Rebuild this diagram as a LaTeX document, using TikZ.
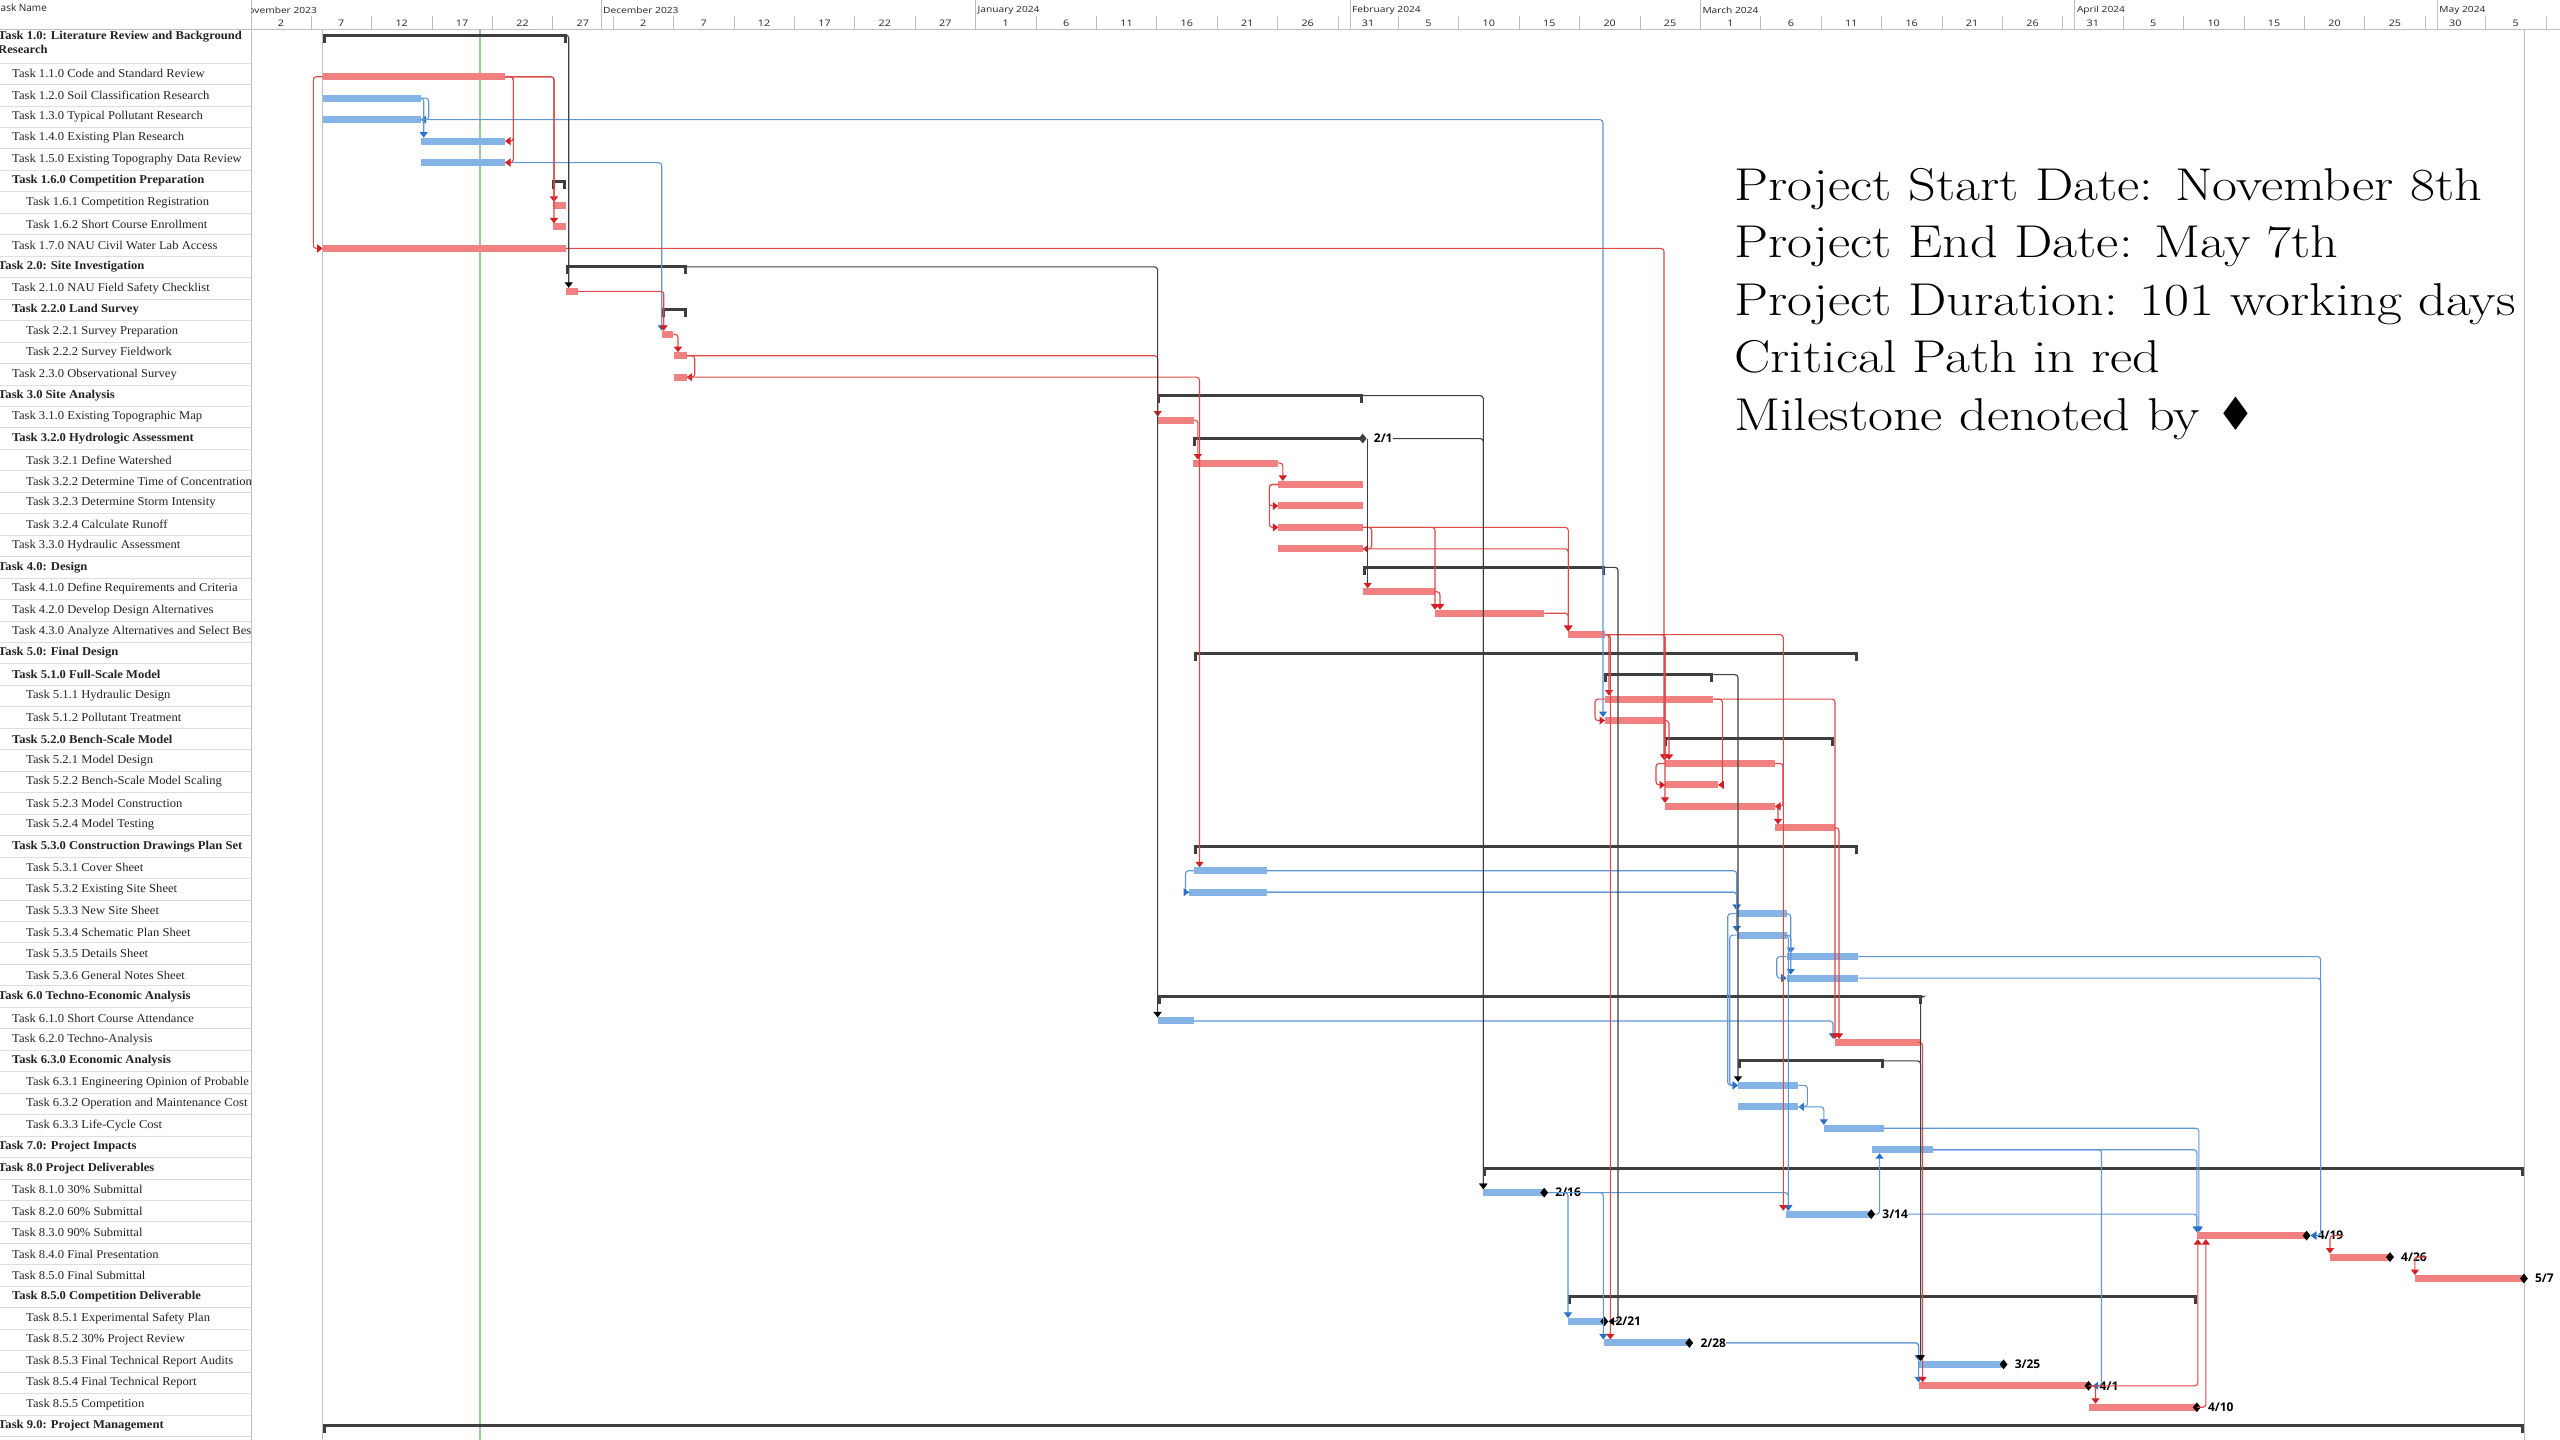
\documentclass[tikz,border=0pt]{standalone}
\usepackage{fontspec}
\usepackage{graphicx}
\newfontfamily\tblfont{Liberation Serif}
\newfontfamily\hdrfont{Open Sans}
\newfontfamily\symfont{DejaVu Sans}
\usetikzlibrary{arrows.meta,shapes.geometric}
\definecolor{critfill}{RGB}{241,128,128}
\definecolor{normfill}{RGB}{133,179,230}
\definecolor{critline}{RGB}{222,72,72}
\definecolor{normline}{RGB}{96,150,214}
\definecolor{critarr}{RGB}{214,30,36}
\definecolor{normarr}{RGB}{40,112,200}
\definecolor{sumcol}{RGB}{62,62,62}
\definecolor{gridcol}{RGB}{222,222,222}
\definecolor{bordcol}{RGB}{190,190,190}
\definecolor{todaycol}{RGB}{150,205,150}
\definecolor{txtcol}{RGB}{35,35,35}
\newcommand\RY[1]{(73.73+(#1-2)*21.46)}
\newcommand\gbar[5]{\node[#2,minimum width={(#4)-(#3)},anchor=west] (#1) at ({#3},{\RY{#5}+3}) {};}
\newcommand\gsum[4]{%
  \node[sbar,minimum width={(#3)-(#2)},anchor=west] (#1) at ({#2},{#4}) {};%
  \fill[sumcol] ({#2},{#4-1.5}) rectangle ++(3,9);%
  \fill[sumcol] ({#3-3},{#4-1.5}) rectangle ++(3,9);}
\newcommand\gsumr[4]{\gsum{#1}{#2}{#3}{\RY{#4}}}
\newcommand\msk[3]{\node[msd] (m#1) at (#2.east) {};\node[mslbl] (l#1) at ([xshift=11pt]#2.east) {#3};}
\newcommand\hsc[1]{\scalebox{1.05}[1]{#1}}
\newcommand\trow[4]{\node[tt,#3] (r#1) at (#2,{\RY{#1}}) {\hsc{#4}};}
\begin{document}
\begin{tikzpicture}[x=1pt,y=-1pt,
  cbar/.style={rectangle,fill=critfill,inner sep=0,outer sep=0,minimum height=7pt},
  nbar/.style={rectangle,fill=normfill,inner sep=0,outer sep=0,minimum height=7pt},
  sbar/.style={rectangle,fill=sumcol,inner sep=0,outer sep=0,minimum height=3pt},
  msd/.style={diamond,fill=black,inner sep=0,minimum width=8pt,minimum height=10pt},
  mslbl/.style={anchor=west,inner sep=0,font=\hdrfont\bfseries\fontsize{12}{12}\selectfont},
  lnk/.style={line width=1.1pt,rounded corners=3pt},
  cl/.style={lnk,draw=critline,-{Triangle[length=5.5pt,width=8pt,color=critarr]}},
  nl/.style={lnk,draw=normline,-{Triangle[length=5.5pt,width=8pt,color=normarr]}},
  sl/.style={lnk,draw=sumcol,-{Triangle[length=5.5pt,width=8pt,color=black]}},
  tt/.style={anchor=west,inner sep=0,text=txtcol,font=\tblfont\fontsize{12}{14}\selectfont},
  tb/.style={font=\tblfont\bfseries\fontsize{12}{14}\selectfont},
  hdrm/.style={anchor=west,inner sep=0,text=txtcol,font=\hdrfont\fontsize{8.5}{9}\selectfont},
  hdrw/.style={inner sep=0,text=txtcol,font=\hdrfont\fontsize{9}{9}\selectfont},
  rt/.style={anchor=base west,inner sep=0,font=\fontsize{46}{52}\selectfont}]
\useasboundingbox (0,0) rectangle (2560,1440);
\fill[white] (0,0) rectangle (2560,1440);
% ---------- table ----------
\foreach \k in {2,...,66} \draw[gridcol,line width=0.8pt] (0,{63+(\k-2)*21.46}) -- (251,{63+(\k-2)*21.46});
\draw[bordcol,line width=0.8pt] (0,29) -- (2560,29);
\draw[bordcol,line width=1pt] (251,0) -- (251,1440);
\node[anchor=west,inner sep=0,text=txtcol,font=\hdrfont\fontsize{10}{10}\selectfont] (hdr) at (0.5,8) {ask Name};
\begin{scope}
\clip (0,0) rectangle (250,1440);
\node[tt,tb,align=left] (r1) at (-2,42) {\hsc{Task 1.0: Literature Review and Background}\\\hsc{Research}};
\trow{2}{12}{}{Task 1.1.0 Code and Standard Review}
\trow{3}{12}{}{Task 1.2.0 Soil Classification Research}
\trow{4}{12}{}{Task 1.3.0 Typical Pollutant Research}
\trow{5}{12}{}{Task 1.4.0 Existing Plan Research}
\trow{6}{12}{}{Task 1.5.0 Existing Topography Data Review}
\trow{7}{12}{tb}{Task 1.6.0 Competition Preparation}
\trow{8}{26}{}{Task 1.6.1 Competition Registration}
\trow{9}{26}{}{Task 1.6.2 Short Course Enrollment}
\trow{10}{12}{}{Task 1.7.0 NAU Civil Water Lab Access}
\trow{11}{-2}{tb}{Task 2.0: Site Investigation}
\trow{12}{12}{}{Task 2.1.0 NAU Field Safety Checklist}
\trow{13}{12}{tb}{Task 2.2.0 Land Survey}
\trow{14}{26}{}{Task 2.2.1 Survey Preparation}
\trow{15}{26}{}{Task 2.2.2 Survey Fieldwork}
\trow{16}{12}{}{Task 2.3.0 Observational Survey}
\trow{17}{-2}{tb}{Task 3.0 Site Analysis}
\trow{18}{12}{}{Task 3.1.0 Existing Topographic Map}
\trow{19}{12}{tb}{Task 3.2.0 Hydrologic Assessment}
\trow{20}{26}{}{Task 3.2.1 Define Watershed}
\trow{21}{26}{}{Task 3.2.2 Determine Time of Concentration}
\trow{22}{26}{}{Task 3.2.3 Determine Storm Intensity}
\trow{23}{26}{}{Task 3.2.4 Calculate Runoff}
\trow{24}{12}{}{Task 3.3.0 Hydraulic Assessment}
\trow{25}{-2}{tb}{Task 4.0: Design}
\trow{26}{12}{}{Task 4.1.0 Define Requirements and Criteria}
\trow{27}{12}{}{Task 4.2.0 Develop Design Alternatives}
\trow{28}{12}{}{Task 4.3.0 Analyze Alternatives and Select Best}
\trow{29}{-2}{tb}{Task 5.0: Final Design}
\trow{30}{12}{tb}{Task 5.1.0 Full-Scale Model}
\trow{31}{26}{}{Task 5.1.1 Hydraulic Design}
\trow{32}{26}{}{Task 5.1.2 Pollutant Treatment}
\trow{33}{12}{tb}{Task 5.2.0 Bench-Scale Model}
\trow{34}{26}{}{Task 5.2.1 Model Design}
\trow{35}{26}{}{Task 5.2.2 Bench-Scale Model Scaling}
\trow{36}{26}{}{Task 5.2.3 Model Construction}
\trow{37}{26}{}{Task 5.2.4 Model Testing}
\trow{38}{12}{tb}{Task 5.3.0 Construction Drawings Plan Set}
\trow{39}{26}{}{Task 5.3.1 Cover Sheet}
\trow{40}{26}{}{Task 5.3.2 Existing Site Sheet}
\trow{41}{26}{}{Task 5.3.3 New Site Sheet}
\trow{42}{26}{}{Task 5.3.4 Schematic Plan Sheet}
\trow{43}{26}{}{Task 5.3.5 Details Sheet}
\trow{44}{26}{}{Task 5.3.6 General Notes Sheet}
\trow{45}{-2}{tb}{Task 6.0 Techno-Economic Analysis}
\trow{46}{12}{}{Task 6.1.0 Short Course Attendance}
\trow{47}{12}{}{Task 6.2.0 Techno-Analysis}
\trow{48}{12}{tb}{Task 6.3.0 Economic Analysis}
\trow{49}{26}{}{Task 6.3.1 Engineering Opinion of Probable Cost}
\trow{50}{26}{}{Task 6.3.2 Operation and Maintenance Cost}
\trow{51}{26}{}{Task 6.3.3 Life-Cycle Cost}
\trow{52}{-2}{tb}{Task 7.0: Project Impacts}
\trow{53}{-2}{tb}{Task 8.0 Project Deliverables}
\trow{54}{12}{}{Task 8.1.0 30\% Submittal}
\trow{55}{12}{}{Task 8.2.0 60\% Submittal}
\trow{56}{12}{}{Task 8.3.0 90\% Submittal}
\trow{57}{12}{}{Task 8.4.0 Final Presentation}
\trow{58}{12}{}{Task 8.5.0 Final Submittal}
\trow{59}{12}{tb}{Task 8.5.0 Competition Deliverable}
\trow{60}{26}{}{Task 8.5.1 Experimental Safety Plan}
\trow{61}{26}{}{Task 8.5.2 30\% Project Review}
\trow{62}{26}{}{Task 8.5.3 Final Technical Report Audits}
\trow{63}{26}{}{Task 8.5.4 Final Technical Report}
\trow{64}{26}{}{Task 8.5.5 Competition}
\trow{65}{-2}{tb}{Task 9.0: Project Management}
\end{scope}
% ---------- timescale ----------
\begin{scope}
\clip (251,0) rectangle (2560,29);
\foreach \x/\m in {238.6/November 2023,601/December 2023,975.5/January 2024,1350/February 2024,1700.3/March 2024,2074.8/April 2024,2437.2/May 2024}{
  \draw[bordcol,line width=0.8pt] (\x,0) -- (\x,29);
  \node[hdrm] at ({\x+2},10.5) {\scalebox{1.2}[1]{\m}};}
\foreach \k/\lab in {0/2,1/7,2/12,3/17,4/22,5/27,6/2,7/7,8/12,9/17,10/22,11/27,12/1,13/6,14/11,15/16,16/21,17/26,18/31,19/5,20/10,21/15,22/20,23/25,24/1,25/6,26/11,27/16,28/21,29/26,30/31,31/5,32/10,33/15,34/20,35/25,36/30,37/5}{
  \draw[bordcol,line width=0.8pt] ({250.7+60.4*\k},16) -- ({250.7+60.4*\k},29);
  \node[hdrw] at ({250.7+60.4*\k+30.2},23) {\scalebox{1.2}[1]{\lab}};}
\draw[bordcol,line width=0.8pt] ({250.7+60.4*38},16) -- ({250.7+60.4*38},29);
\end{scope}
% ---------- grid lines ----------
\draw[bordcol,line width=1pt] (322.7,29) -- (322.7,1440);
\draw[bordcol,line width=1pt] (2524,29) -- (2524,1440);
\draw[todaycol,line width=1.2pt] (480,29) -- (480,1440);
% ---------- bars ----------
\gsum{s1}{322.7}{566.7}{35}
\gbar{t11}{cbar}{322.7}{505}{2}
\gbar{t12}{nbar}{322.7}{420.7}{3}
\gbar{t13}{nbar}{322.7}{420.7}{4}
\gbar{t14}{nbar}{420.7}{505}{5}
\gbar{t15}{nbar}{420.7}{505}{6}
\gsumr{s16}{552.3}{565.7}{7}
\gbar{t161}{cbar}{553}{566}{8}
\gbar{t162}{cbar}{553}{566}{9}
\gbar{t17}{cbar}{322.7}{565.7}{10}
\gsumr{s2}{565.7}{686.7}{11}
\gbar{t21}{cbar}{565.7}{577.7}{12}
\gsumr{s22}{661.7}{686.7}{13}
\gbar{t221}{cbar}{661.7}{673.3}{14}
\gbar{t222}{cbar}{674}{686.7}{15}
\gbar{t23}{cbar}{674}{686.7}{16}
\gsumr{s3}{1156.7}{1362.7}{17}
\gbar{t31}{cbar}{1156.7}{1194}{18}
\node[sbar,minimum width={1362.7-1193.3},anchor=west] (s32) at (1193.3,{\RY{19}}) {};
\fill[sumcol] (1193.3,{\RY{19}-1.5}) rectangle ++(3,9);
\node[msd,fill=sumcol] (m32) at (s32.east) {};
\node[mslbl] (l32) at ([xshift=11pt]s32.east) {2/1};
\gbar{t321}{cbar}{1193.3}{1278.3}{20}
\gbar{t322}{cbar}{1278.3}{1362.7}{21}
\gbar{t323}{cbar}{1278.3}{1362.7}{22}
\gbar{t324}{cbar}{1278.3}{1362.7}{23}
\gbar{t33}{cbar}{1278.3}{1362.7}{24}
\gsumr{s4}{1362.7}{1605}{25}
\gbar{t41}{cbar}{1362.7}{1435}{26}
\gbar{t42}{cbar}{1435}{1544.3}{27}
\gbar{t43}{cbar}{1568.3}{1605}{28}
\gsumr{s5}{1193.5}{1858.3}{29}
\gsumr{s51}{1604}{1713.3}{30}
\gbar{t511}{cbar}{1605}{1713.3}{31}
\gbar{t512}{cbar}{1605}{1665}{32}
\gsumr{s52}{1664}{1834}{33}
\gbar{t521}{cbar}{1665}{1775}{34}
\gbar{t522}{cbar}{1665}{1718.3}{35}
\gbar{t523}{cbar}{1665}{1775}{36}
\gbar{t524}{cbar}{1775}{1835}{37}
\gsumr{s53}{1193.5}{1858.3}{38}
\gbar{t531}{nbar}{1193.5}{1267}{39}
\gbar{t532}{nbar}{1189}{1267}{40}
\gbar{t533}{nbar}{1736.7}{1786.7}{41}
\gbar{t534}{nbar}{1736.7}{1786.7}{42}
\gbar{t535}{nbar}{1786.7}{1858.3}{43}
\gbar{t536}{nbar}{1786.7}{1858.3}{44}
\gsumr{s6}{1157.6}{1921.7}{45}
\gbar{t61}{nbar}{1157.6}{1193.5}{46}
\gbar{t62}{cbar}{1835}{1920}{47}
\gsumr{s63}{1738}{1884}{48}
\gbar{t631}{nbar}{1738}{1798.4}{49}
\gbar{t632}{nbar}{1738}{1798.4}{50}
\gbar{t633}{nbar}{1823.8}{1883.9}{51}
\gbar{t7}{nbar}{1871.6}{1932.5}{52}
\gsumr{s8}{1483.3}{2524}{53}
\gbar{t81}{nbar}{1483.3}{1544.2}{54}
\gbar{t82}{nbar}{1786.3}{1871.2}{55}
\gbar{t83}{cbar}{2196.8}{2306.6}{56}
\gbar{t84}{cbar}{2330}{2390}{57}
\gbar{t85}{cbar}{2414.9}{2523.9}{58}
\gsumr{s85}{1568.2}{2196.8}{59}
\gbar{t851}{nbar}{1568}{1604.3}{60}
\gbar{t852}{nbar}{1604.3}{1689.3}{61}
\gbar{t853}{nbar}{1918.6}{2003.6}{62}
\gbar{t854}{cbar}{1918.6}{2088.5}{63}
\gbar{t855}{cbar}{2088.5}{2196.8}{64}
\gsumr{s9}{322.7}{2524}{65}
% milestones
\msk{81}{t81}{2/16}
\msk{82}{t82}{3/14}
\msk{83}{t83}{4/19}
\msk{84}{t84}{4/26}
\msk{85}{t85}{5/7}
\msk{851}{t851}{2/21}
\msk{852}{t852}{2/28}
\msk{853}{t853}{3/25}
\msk{854}{t854}{4/1}
\msk{855}{t855}{4/10}
% ---------- blue links ----------
\draw[nl] (t12.east) -- ++(8,0) |- (t13.east);
\draw[nl] (t12.east) -| ([xshift=3pt]t14.north west);
\draw[nl] (t13.east) -| ([xshift=-2pt]t512.north west);
\draw[nl] (t15.east) -| (t221.north west);
\draw[nl] (t531.west) -- ++(-8,0) |- (t532.west);
\draw[nl] (t531.east) -| (t533.north west);
\draw[nl] (t532.east) -| (t533.north west);
\draw[nl] (t532.east) -| (t534.north west);
\draw[nl] (t533.west) -- ++(-9,0) |- (t631.west);
\draw[nl] (t534.west) -- ++(-7,0) |- (t631.west);
\draw[nl] (t533.east) -| ([xshift=4pt]t535.north west);
\draw[nl] (t534.east) -| ([xshift=4pt]t536.north west);
\draw[nl] (t535.west) -- ++(-10,0) |- (t536.west);
\draw[nl] (t535.east) -| ([xshift=14pt]t83.east) -- (m83.east);
\draw[nl] (t536.east) -| ([xshift=14pt]t83.east) -- (m83.east);
\draw[nl] (t534.east) -| ([xshift=2pt]t82.north west);
\draw[nl] (t61.east) -| ([xshift=-2pt]t62.north west);
\draw[nl] (t631.east) -- ++(9,0) |- (t632.east);
\draw[nl] (t632.east) -| (t633.north west);
\draw[nl] (t633.east) -| ([xshift=2pt]t83.north west);
\draw[nl] (t7.east) -| (t83.north west);
\draw[nl] (t7.east) -| ([xshift=13pt]t854.east) -- (m854.east);
\draw[nl] (l81.east) -| ([xshift=2pt]t82.north west);
\draw[nl] (m81.east) -| (t851.north west);
\draw[nl] (m81.east) -| ([xshift=-1pt]t852.north west);
\draw[nl] (l852.east) -| (t853.north west);
\draw[nl] (l852.east) -| (t854.north west);
\draw[nl] (m82.east) -| ([xshift=8pt]t7.south west);
\draw[nl] (l82.east) -| (t83.north west);
% ---------- red links ----------
\draw[cl] (t11.east) -- ++(8.3,0) |- (t14.east);
\draw[cl] (t11.east) -- ++(8.3,0) |- (t15.east);
\draw[cl] (t11.east) -| ([xshift=1pt]t161.north west);
\draw[cl] (t11.east) -| ([xshift=1pt]t162.north west);
\draw[cl] (t11.west) -- ++(-9.4,0) |- (t17.west);
\draw[cl] (t21.east) -| ([xshift=2pt]t221.north west);
\draw[cl] (t221.east) -| ([xshift=4pt]t222.north west);
\draw[cl] (t222.east) -- ++(8,0) |- (t23.east);
\draw[cl] (t222.east) -| ([xshift=1pt]t31.north west);
\draw[cl] (t23.east) -| ([xshift=6pt]t531.north west);
\draw[cl] (t17.east) -| ([xshift=-1pt]t521.north west);
\draw[cl] (t31.east) -| ([xshift=4.5pt]t321.north west);
\draw[cl] (t321.east) -| ([xshift=4.5pt]t322.north west);
\draw[cl] (t322.west) -- ++(-9,0) |- (t323.west);
\draw[cl] (t322.west) -- ++(-9,0) |- (t324.west);
\draw[cl] (t324.east) -- ++(9,0) |- (t33.east);
\draw[cl] (t324.east) -| (t42.north west);
\draw[cl] (t41.east) -| ([xshift=5pt]t42.north west);
\draw[cl] (t324.east) -| (t43.north west);
\draw[cl] (t33.east) -| (t43.north west);
\draw[cl] (t42.east) -| (t43.north west);
\draw[cl] (t43.east) -| ([xshift=4pt]t511.north west);
\draw[cl] (t43.east) -| ([xshift=6pt]t852.north west);
\draw[cl] (t43.east) -| (t521.north west);
\draw[cl] (t43.east) -| (t523.north west);
\draw[cl] (t43.east) -| ([xshift=-3pt]t82.north west);
\draw[cl] (t511.west) -- ++(-10,0) |- (t512.west);
\draw[cl] (t511.east) -- ++(9,0) |- (t522.east);
\draw[cl] (t511.east) -| (t62.north west);
\draw[cl] (t512.east) -| ([xshift=4pt]t521.north west);
\draw[cl] (t521.west) -- ++(-9,0) |- (t522.west);
\draw[cl] (t521.east) -- ++(8,0) |- (t523.east);
\draw[cl] (t523.east) -| ([xshift=3pt]t524.north west);
\draw[cl] (t524.east) -| ([xshift=4pt]t62.north west);
\draw[cl] (t62.east) -| ([xshift=4pt]t854.north west);
\draw[cl] (t854.east) -| ([xshift=7pt]t855.north west);
\draw[cl] (t854.east) -| ([xshift=1pt]t83.south west);
\draw[cl] (t855.east) -| ([xshift=9pt]t83.south west);
\draw[cl] (l83.east) -| (t84.north west);
\draw[cl] (l84.east) -| (t85.north west);
% ---------- summary links ----------
\draw[sl] (s1.east) -| ([xshift=3pt]t21.north west);
\draw[sl] (s2.east) -| (t61.north west);
\draw[sl] (s3.east) -| (t81.north west);
\draw[sl] (l32.east) -| (t81.north west);
\draw[sl,-{Triangle[length=5.5pt,width=8pt,color=critarr]}] ([xshift=5pt]m32.center) -- ([xshift=5pt]t41.north west);
\draw[sl] (s4.east) -- ++(13,0) |- (m851.east);
\draw[sl] (s51.east) -| (t631.north west);
\draw[sl] (s6.east) -| ([xshift=2pt]t853.north west);
\draw[sl] (s63.east) -| ([xshift=2pt]t853.north west);
% ---------- notes ----------
\node[rt] (n1) at (1734,200) {\scalebox{1.18}[1]{Project Start Date: November 8th}};
\node[rt] (n2) at (1734,257.5) {\scalebox{1.18}[1]{Project End Date: May 7th}};
\node[rt] (n3) at (1734,315) {\scalebox{1.18}[1]{Project Duration: 101 working days}};
\node[rt] (n4) at (1734,372.5) {\scalebox{1.18}[1]{Critical Path in red}};
\node[rt] (n5) at (1734,430) {\scalebox{1.18}[1]{Milestone denoted by {\symfont\scalebox{0.8}[1]{♦}}}};
\end{tikzpicture}
\end{document}
